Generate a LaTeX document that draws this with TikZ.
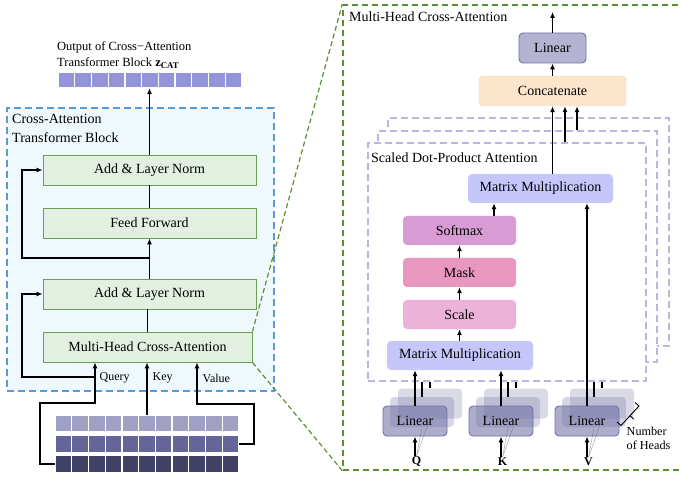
\documentclass[tikz,border=0pt]{standalone}
\usepackage{fontspec}
\setmainfont{Liberation Serif}
\usetikzlibrary{arrows.meta,calc}
\definecolor{grnfill}{HTML}{E2EFE1}
\definecolor{grnline}{HTML}{6A9F50}
\definecolor{bluebg}{HTML}{EFF8FD}
\definecolor{blueline}{HTML}{5B9BD5}
\definecolor{outcol}{HTML}{9494DA}
\definecolor{inA}{HTML}{A0A0C4}
\definecolor{inB}{HTML}{65659A}
\definecolor{inC}{HTML}{414166}
\definecolor{zoomgrn}{HTML}{5B8F32}
\definecolor{headline}{HTML}{B8B8DE}
\definecolor{concfill}{HTML}{FDE5CD}
\definecolor{concline}{HTML}{F7CFA6}
\definecolor{linfill}{HTML}{B4B4D2}
\definecolor{linline}{HTML}{7070A8}
\definecolor{linbase}{HTML}{6A6AA0}
\definecolor{mmfill}{HTML}{C6C6FA}
\definecolor{smfill}{HTML}{D89BD3}
\definecolor{maskfill}{HTML}{E898BE}
\definecolor{scalefill}{HTML}{EDB2D9}
\tikzset{
  lbl/.style={font=\fontsize{14}{17}\selectfont},
  grnbox/.style={draw=grnline, line width=0.9pt, fill=grnfill, minimum height=30, inner sep=0pt, lbl},
  rbox/.style={rounded corners=4pt, minimum height=29, inner sep=0pt, lbl},
  arr/.style={-{Latex[length=6pt,width=5pt]}, line width=1.6pt},
  wire/.style={line width=1.6pt},
  vecbox/.style={minimum width=184, inner sep=0pt},
  headbox/.style={draw=headline, dash pattern=on 7pt off 4pt, line width=1.2pt, fill=white, inner sep=0pt},
  linlayer/.style={rounded corners=4pt, minimum width=64, minimum height=30, inner sep=0pt, fill=linbase},
  smalltxt/.style={font=\fontsize{12}{14}\selectfont, inner sep=0pt},
}
\begin{document}
\begin{tikzpicture}[x=1pt,y=-1pt]
\useasboundingbox (0,0) rectangle (680,478);

% ---------- left: cross-attention transformer block ----------
\node[draw=blueline, dash pattern=on 7pt off 4pt, line width=1.4pt, fill=bluebg,
      minimum width=267, minimum height=283, inner sep=0pt] (catbox) at (140.5,249.5) {};
\node[lbl, anchor=north west, align=left, inner sep=0pt] (cattitle) at (12,114.5)
  {Cross-Attention\\[1.5pt]Transformer Block};

\node[grnbox, minimum width=213] (ln1) at (149.5,170) {Add \& Layer Norm};
\node[grnbox, minimum width=213] (ff) at (149.5,223) {Feed Forward};
\node[grnbox, minimum width=213] (ln2) at (149.5,294) {Add \& Layer Norm};
\node[grnbox, minimum width=209] (mhca) at (147.5,347) {Multi-Head Cross-Attention};

% output
\node[anchor=west, align=left, font=\fontsize{12.5}{15}\selectfont, inner sep=0pt] (outtxt) at (57,55)
  {Output of Cross−Attention\\[0.5pt]Transformer Block \textbf{z}\textsubscript{\textbf{CAT}}};
\node[vecbox, minimum height=15] (outvec) at (150,80.5) {};
\foreach \i in {0,...,10} \fill[outcol] (58.6+\i*16.73,73.5) rectangle ++(15.5,14);

\draw[arr] (ln1.north) -- (ln1.north |- outvec.south);
\draw[wire] (ff.north) -- (ln1.south);
\draw[arr] (ln2.north) -- (ff.south);
\coordinate (j1) at (149.5,258);
\coordinate (r1) at (22,258);
\draw[arr] (j1) -- (r1) |- (ln1.west);
\draw[wire] (mhca.north) -- (mhca.north |- ln2.south);

% inputs
\node[vecbox, minimum height=16] (in1) at (147,423) {};
\node[vecbox, minimum height=16] (in2) at (147,444) {};
\node[vecbox, minimum height=16] (in3) at (147,464) {};
\foreach \i in {0,...,10} {
  \fill[inA] (55.6+\i*16.73,415.5) rectangle ++(15.5,15.5);
  \fill[inB] (55.6+\i*16.73,436.3) rectangle ++(15.5,15.5);
  \fill[inC] (55.6+\i*16.73,456.3) rectangle ++(15.5,15.5);
}

\coordinate (qc) at (95,403);
\coordinate (qj) at (95,377);
\coordinate (r2) at (22,377);
\coordinate (vc) at (197,404);
\draw[arr] (in3.west) -- ++(-15,0) |- (qc) -- (qc |- mhca.south);
\draw[arr] (qj) -- (r2) |- (ln2.west);
\draw[arr] (in1.north) -- (in1.north |- mhca.south);
\draw[arr] (in2.east) -- ++(15,0) |- (vc) -- (vc |- mhca.south);

\node[smalltxt, anchor=west] (qlbl) at (99.5,377.5) {Query};
\node[smalltxt, anchor=west] (klbl) at (152.5,377.5) {Key};
\node[smalltxt, anchor=west] (vlbl) at (202.5,378) {Value};

% ---------- zoom ----------
\node[draw=zoomgrn, dash pattern=on 6pt off 4pt, line width=1.4pt, minimum width=340, minimum height=465,
      inner sep=0pt] (zoombox) at (513,237.5) {};
\draw[zoomgrn, dash pattern=on 5pt off 3pt, line width=1.2pt] (mhca.north east) -- (zoombox.north west);
\draw[zoomgrn, dash pattern=on 5pt off 3pt, line width=1.2pt] (mhca.south east) -- (zoombox.south west);

% ---------- right: multi-head cross-attention ----------
\node[lbl, anchor=west, inner sep=0pt] (mhtitle) at (349,16.5) {Multi-Head Cross-Attention};

\node[headbox, minimum width=281, minimum height=228] (hback) at (528.5,232) {};
\node[headbox, minimum width=279, minimum height=231] (hmid) at (517.5,246.5) {};
\node[headbox, minimum width=278, minimum height=238] (hfront) at (507,262) {};
\node[lbl, anchor=west, inner sep=0pt] (sdtitle) at (371,157.5) {Scaled Dot-Product Attention};

\node[rbox, draw=concline, fill=concfill, minimum width=147, minimum height=30] (concat) at (552.5,91) {Concatenate};
\node[rbox, draw=linline, fill=linfill, line width=0.9pt, minimum width=67, minimum height=30] (lintop) at (552.5,48) {Linear};
\coordinate (mhout) at (552.5,12);
\draw[arr] (lintop.north) -- (mhout);
\draw[arr] (concat.north) -- (lintop.south);

\node[rbox, fill=mmfill, minimum width=145] (mm2) at (540.5,188.5) {Matrix Multiplication};
\node[rbox, fill=smfill, minimum width=113] (softmax) at (459.5,230.5) {Softmax};
\node[rbox, fill=maskfill, minimum width=113] (mask) at (459.5,272.5) {Mask};
\node[rbox, fill=scalefill, minimum width=113] (scale) at (459.5,314.5) {Scale};
\node[rbox, fill=mmfill, minimum width=146] (mm1) at (460,355.5) {Matrix Multiplication};

\coordinate (a2) at ($(concat.south)+(12.5,0)$);
\coordinate (a3) at ($(concat.south)+(24.5,0)$);
\draw[arr] (mm2.north -| concat.south) -- (concat.south);
\draw[arr] (a2 |- hfront.north) -- (a2);
\draw[arr] (a3 |- hmid.north) -- (a3);

\coordinate (s1) at ($(softmax.north)+(34.5,0)$);
\draw[arr] (s1) -- (s1 |- mm2.south);
\draw[arr] (mask.north) -- (softmax.south);
\draw[arr] (scale.north) -- (mask.south);
\draw[arr] (scale.south |- mm1.north) -- (scale.south);

\foreach \n/\x/\lab/\tgt in {q/415/Q/mm1, k/501/K/mm1, v/587/V/mm2} {
  \node[linlayer, fill opacity=0.25] (l\n3) at (\x+15,403.5) {};
  \node[linlayer, fill opacity=0.27] (l\n2) at (\x+7,412) {};
  \node[font=\bfseries\fontsize{12}{14}\selectfont, inner sep=0pt] (in\n) at (\x+1.5,461.5) {\lab};
  \draw[gray!80, line width=0.4pt] (in\n.north) -- (l\n2.south);
  \draw[gray!80, line width=0.4pt] (in\n.north) -- (l\n3.south);
  \node[linlayer, fill opacity=0.55, text opacity=1, draw=linline, line width=0.9pt, lbl] (l\n) at (\x,421) {Linear};
  \draw[wire] (l\n2.north) -- (l\n2.north |- hfront.south);
  \draw[wire] (l\n3.north) -- (l\n3.north |- hfront.south);
  \draw[arr] (l\n.north) -- (l\n.north |- \tgt.south);
  \draw[arr] (in\n.north -| l\n.south) -- (l\n.south);
}

% number of heads brace
\draw[line width=0.9pt] (617,422) -- (621,425.5) -- (639,406) -- (635,402.5);
\draw[line width=0.9pt] (630,415.7) -- (633.7,419.2);
\node[anchor=north west, align=left, font=\fontsize{12.2}{14}\selectfont, inner sep=0pt] (nh) at (626.5,427)
  {Number\\of Heads};
\end{tikzpicture}
\end{document}
